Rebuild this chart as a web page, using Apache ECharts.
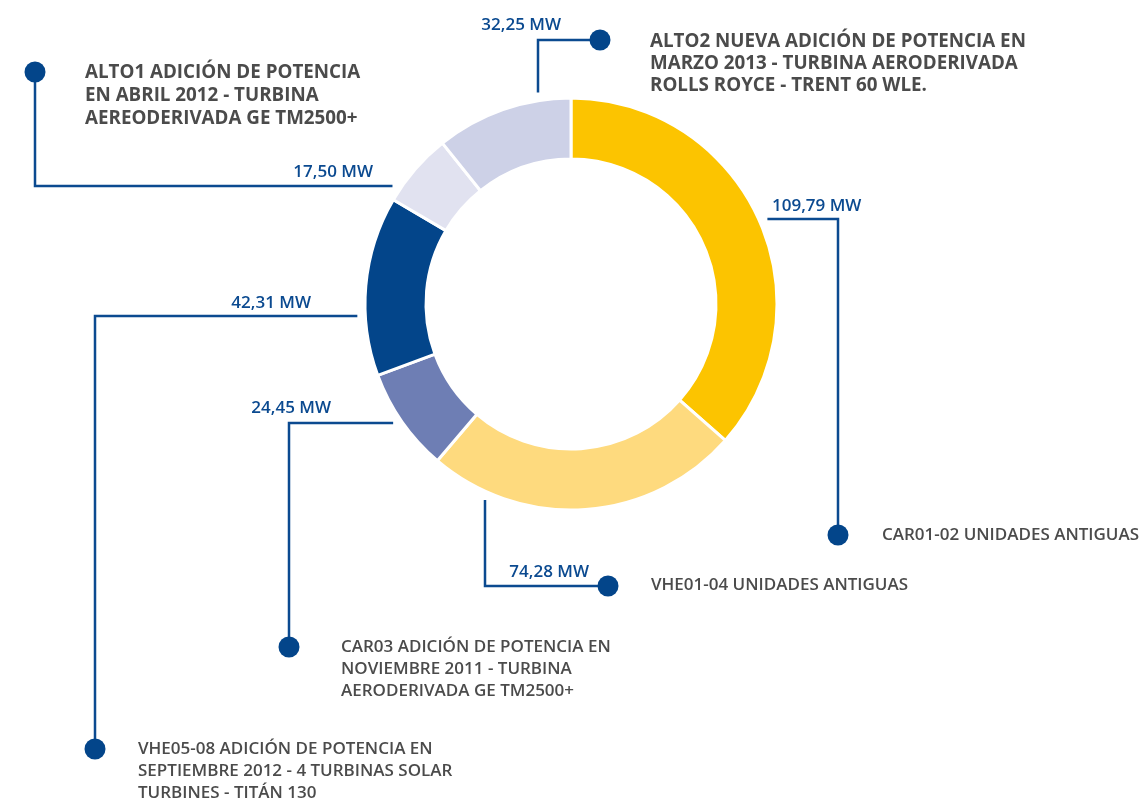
<!DOCTYPE html>
<html>
<head>
<meta charset="utf-8">
<script src="https://cdn.jsdelivr.net/npm/echarts@6/dist/echarts.min.js"></script>
<style>
  html, body { margin: 0; padding: 0; background: #fff; }
  #chart { width: 1145px; height: 800px; }
</style>
</head>
<body>
<div id="chart"></div>
<script>
// potencia por unidad (MW), en sentido horario desde arriba
var unidades = ['CAR01-02', 'VHE01-04', 'CAR03', 'VHE05-08', 'ALTO1', 'ALTO2'];
var potencias = [109.79, 74.28, 24.45, 42.31, 17.50, 32.25];
var descripciones = [
  'CAR01-02 UNIDADES ANTIGUAS',
  'VHE01-04 UNIDADES ANTIGUAS',
  'CAR03 ADICIÓN DE POTENCIA EN\nNOVIEMBRE 2011 - TURBINA\nAERODERIVADA GE TM2500+',
  'VHE05-08 ADICIÓN DE POTENCIA EN\nSEPTIEMBRE 2012 - 4 TURBINAS SOLAR\nTURBINES - TITÁN 130',
  'ALTO1 ADICIÓN DE POTENCIA\nEN ABRIL 2012 - TURBINA\nAEREODERIVADA GE TM2500+',
  'ALTO2 NUEVA ADICIÓN DE POTENCIA EN\nMARZO 2013 - TURBINA AERODERIVADA\nROLLS ROYCE - TRENT 60 WLE.'
];
var colores = ['#FCC400', '#FEDA7E', '#6E7EB4', '#03458A', '#E1E2F0', '#CDD1E7'];

var azul = '#0B4A90';
var gris = '#4B4B4B';
var fuente = '"Open Sans", "Noto Sans", sans-serif';

// geometria del anillo
var cx = 571, cy = 304;
var rLinea = 214; // donde empiezan las guias

// guias: direccion del primer tramo, esquina, punto final, etiqueta del valor, texto
var guias = [
  { dir: 'h', corner: [838, 219], dot: [838, 535], label: [772, 206, 'left'],  text: [882, 535], font: '600 17px', lh: 23 },
  { dir: 'v', corner: [485, 586], dot: [608, 586], label: [589, 572, 'right'], text: [651, 585], font: '600 17px', lh: 23 },
  { dir: 'h', corner: [289, 423], dot: [289, 647], label: [331, 408, 'right'], text: [341, 647], font: '600 17px', lh: 22 },
  { dir: 'h', corner: [95, 316],  dot: [95, 749],  label: [311, 303, 'right'], text: [138, 749], font: '600 17px', lh: 22 },
  { dir: 'h', corner: [35, 186],  dot: [35, 72],   label: [373, 172, 'right'], text: [85, 73],   font: '700 18.8px', lh: 23 },
  { dir: 'v', corner: [538, 40],  dot: [600, 40],  label: [561, 25, 'right'],  text: [650, 42],  font: '700 18.8px', lh: 22 }
];

function formatoMW(v) {
  return v.toFixed(2).replace('.', ',') + ' MW';
}

var chart = echarts.init(document.getElementById('chart'));

var datos = [];
for (var i = 0; i < unidades.length; i++) {
  datos.push({ name: unidades[i], value: potencias[i], itemStyle: { color: colores[i] } });
}

var graficos = [];
guias.forEach(function (g, i) {
  graficos.push({
    type: 'circle',
    shape: { cx: g.dot[0], cy: g.dot[1], r: 10.5 },
    style: { fill: '#03458A' },
    z: 100
  });
  graficos.push({
    type: 'text',
    x: g.text[0],
    y: g.text[1] - g.lh / 2,
    style: {
      text: descripciones[i],
      fill: gris,
      font: g.font + ' ' + fuente,
      lineHeight: g.lh,
      verticalAlign: 'top',
      align: 'left'
    },
    z: 100
  });
});

var option = {
  animation: false,
  backgroundColor: '#fff',
  series: [
    {
      type: 'pie',
      center: [cx, cy],
      radius: [145, 206],
      startAngle: 90,
      clockwise: true,
      avoidLabelOverlap: false,
      emphasis: { disabled: true },
      itemStyle: { borderColor: '#fff', borderWidth: 3 },
      label: {
        show: true,
        position: 'outside',
        formatter: function (p) { return formatoMW(p.value); },
        color: azul,
        fontFamily: fuente,
        fontWeight: 600,
        fontSize: 17
      },
      labelLine: {
        show: true,
        smooth: false,
        lineStyle: { color: azul, width: 2.5 }
      },
      labelLayout: function (params) {
        var g = guias[params.dataIndex];
        var start;
        if (g.dir === 'h') {
          var dy = g.corner[1] - cy;
          var dx = Math.sqrt(rLinea * rLinea - dy * dy);
          start = [cx + (g.corner[0] > cx ? dx : -dx), g.corner[1]];
        } else {
          var dx2 = g.corner[0] - cx;
          var dy2 = Math.sqrt(rLinea * rLinea - dx2 * dx2);
          start = [g.corner[0], cy + (g.corner[1] > cy ? dy2 : -dy2)];
        }
        return {
          x: g.label[0],
          y: g.label[1],
          align: g.label[2],
          verticalAlign: 'middle',
          labelLinePoints: [start, g.corner, g.dot]
        };
      },
      data: datos
    }
  ],
  graphic: graficos
};

chart.setOption(option);

window.addEventListener('resize', function () {
  chart.resize();
});
</script>
</body>
</html>
